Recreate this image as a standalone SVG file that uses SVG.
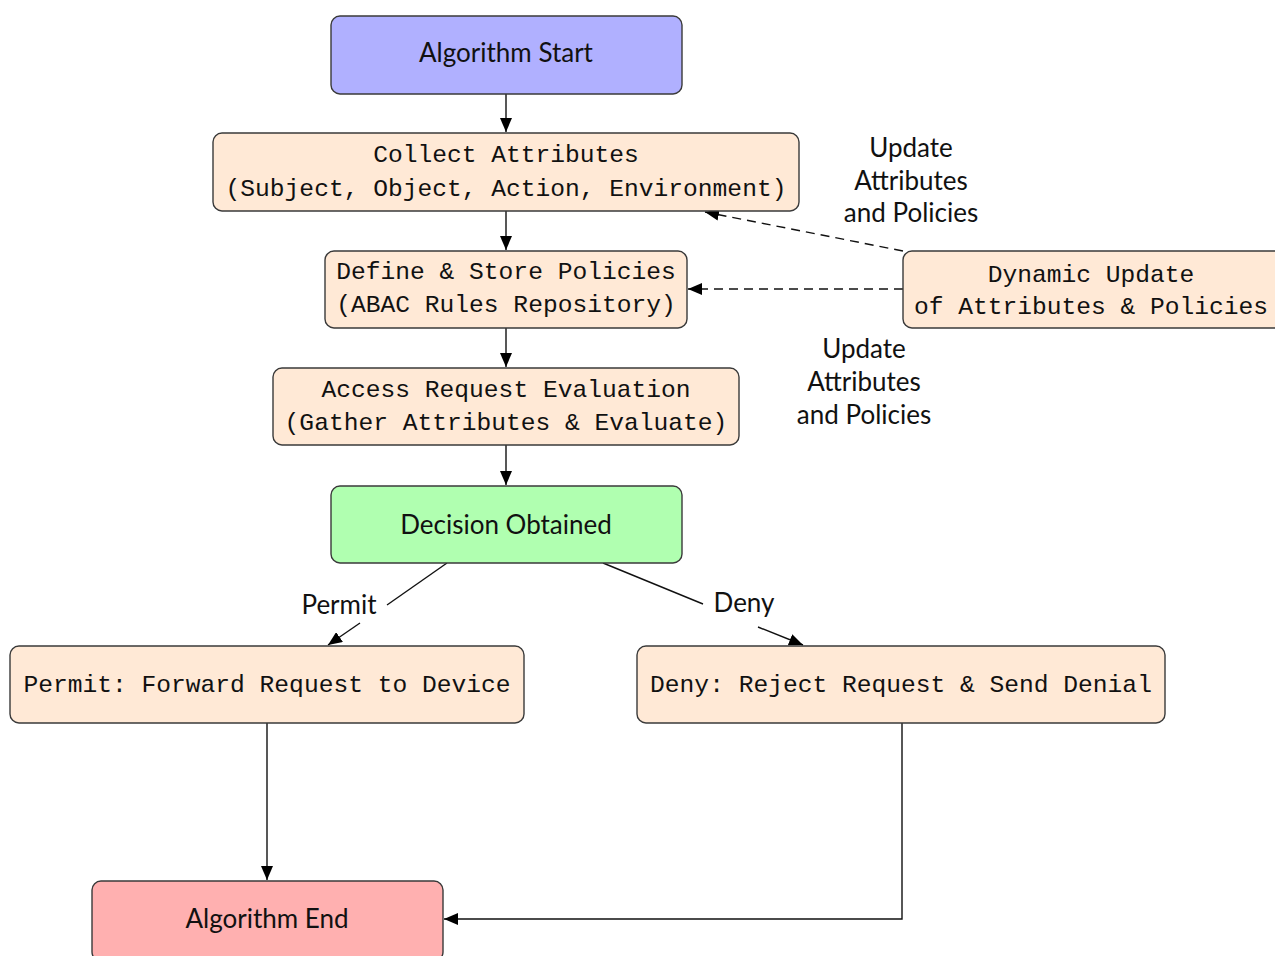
<svg xmlns="http://www.w3.org/2000/svg" width="1275" height="956" viewBox="0 0 1275 956">
  <style>
    .box { stroke: #3a3a3a; stroke-width: 1.4; }
    .step { fill: #ffe9d6; }
    .mono { font-family: "Liberation Mono", "DejaVu Sans Mono", monospace; font-size: 24.6px; fill: #111; text-anchor: middle; }
    .sans { font-family: Lato, "Open Sans", "Liberation Sans", sans-serif; font-size: 26px; fill: #111; text-anchor: middle; }
    .edge { stroke: #111; stroke-width: 1.4; fill: none; }
    .dash { stroke-dasharray: 9 6; }
  </style>
  <defs>
    <marker id="arrow" viewBox="0 0 14 12" refX="14" refY="6" markerWidth="14" markerHeight="12" markerUnits="userSpaceOnUse" orient="auto">
      <path d="M0,0 L14,6 L0,12 Z" fill="#000"/>
    </marker>
  </defs>
  <rect width="1275" height="956" fill="#fff"/>

  <g id="connectors">
    <line class="edge" x1="506" y1="94" x2="506" y2="132" marker-end="url(#arrow)"/>
    <line class="edge" x1="506" y1="211" x2="506" y2="250" marker-end="url(#arrow)"/>
    <line class="edge" x1="506" y1="328" x2="506" y2="367" marker-end="url(#arrow)"/>
    <line class="edge" x1="506" y1="445" x2="506" y2="485" marker-end="url(#arrow)"/>
    <!-- Permit branch, broken around its label -->
    <line class="edge" x1="447" y1="563" x2="387" y2="605"/>
    <line class="edge" x1="360" y1="623" x2="328" y2="645" marker-end="url(#arrow)"/>
    <text class="sans" x="339" y="614">Permit</text>
    <!-- Deny branch, broken around its label -->
    <line class="edge" x1="603" y1="563" x2="703" y2="604"/>
    <line class="edge" x1="758" y1="627" x2="803" y2="645" marker-end="url(#arrow)"/>
    <text class="sans" x="744" y="612">Deny</text>
    <line class="edge" x1="267" y1="723" x2="267" y2="880" marker-end="url(#arrow)"/>
    <polyline class="edge" points="902,723 902,919 444,919" marker-end="url(#arrow)"/>
    <!-- dynamic update feedback -->
    <line class="edge dash" x1="903" y1="251" x2="705" y2="212" marker-end="url(#arrow)"/>
    <line class="edge dash" x1="903" y1="289" x2="688" y2="289" marker-end="url(#arrow)"/>
    <text class="sans" x="911" y="157">Update</text>
    <text class="sans" x="911" y="190">Attributes</text>
    <text class="sans" x="911" y="222">and Policies</text>
    <text class="sans" x="864" y="358">Update</text>
    <text class="sans" x="864" y="391">Attributes</text>
    <text class="sans" x="864" y="424">and Policies</text>
  </g>

  <g id="start">
    <rect class="box" x="331" y="16" width="351" height="78" rx="9" fill="#b0b0ff"/>
    <text class="sans" x="506" y="62">Algorithm Start</text>
  </g>
  <g id="collect">
    <rect class="box step" x="213" y="133" width="586" height="78" rx="9"/>
    <text class="mono" x="506" y="162">Collect Attributes</text>
    <text class="mono" x="506" y="196">(Subject, Object, Action, Environment)</text>
  </g>
  <g id="define">
    <rect class="box step" x="325" y="251" width="362" height="77" rx="9"/>
    <text class="mono" x="506" y="279">Define &amp; Store Policies</text>
    <text class="mono" x="506" y="312">(ABAC Rules Repository)</text>
  </g>
  <g id="evaluate">
    <rect class="box step" x="273" y="368" width="466" height="77" rx="9"/>
    <text class="mono" x="506" y="397">Access Request Evaluation</text>
    <text class="mono" x="506" y="430">(Gather Attributes &amp; Evaluate)</text>
  </g>
  <g id="decision">
    <rect class="box" x="331" y="486" width="351" height="77" rx="9" fill="#b0ffb0"/>
    <text class="sans" x="506" y="534">Decision Obtained</text>
  </g>
  <g id="permit">
    <rect class="box step" x="10" y="646" width="514" height="77" rx="9"/>
    <text class="mono" x="267" y="692">Permit: Forward Request to Device</text>
  </g>
  <g id="deny">
    <rect class="box step" x="637" y="646" width="528" height="77" rx="9"/>
    <text class="mono" x="901" y="692">Deny: Reject Request &amp; Send Denial</text>
  </g>
  <g id="dynamic">
    <rect class="box step" x="903" y="251" width="380" height="77" rx="9"/>
    <text class="mono" x="1091" y="282">Dynamic Update</text>
    <text class="mono" x="1091" y="314">of Attributes &amp; Policies</text>
  </g>
  <g id="end">
    <rect class="box" x="92" y="881" width="351" height="80" rx="9" fill="#ffb0b0"/>
    <text class="sans" x="267" y="928">Algorithm End</text>
  </g>
</svg>
